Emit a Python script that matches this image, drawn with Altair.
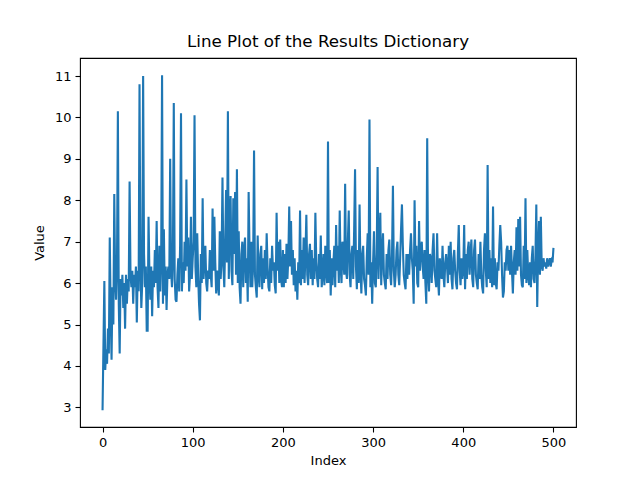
import altair as alt
import pandas as pd

# values, 50 per row block (index 0..500)
vals_000 = [2.93, 4.5, 6.05, 3.9, 4.4, 4.05, 4.9, 4.3, 7.1, 5.3,
            4.15, 5.9, 5.0, 8.15, 6.1, 5.6, 6.4, 10.15, 5.5, 4.3,
            6.1, 5.7, 6.2, 5.4, 6.0, 4.9, 6.2, 5.5, 6.1, 5.8,
            8.45, 6.2, 5.9, 6.3, 5.5, 6.2, 5.9, 6.4, 5.05, 6.3,
            5.8, 10.8, 6.5, 5.4, 6.0, 11.0, 6.7, 5.9, 6.4, 4.85]
vals_050 = [4.85, 7.6, 6.2, 5.6, 6.4, 5.2, 6.3, 5.9, 6.8, 6.0,
            7.5, 5.9, 5.4, 6.9, 5.8, 6.6, 11.02, 5.5, 7.3, 5.7,
            6.4, 5.35, 6.2, 6.4, 6.1, 9.0, 6.3, 5.9, 6.6, 10.35,
            6.1, 5.6, 5.55, 6.2, 6.6, 5.8, 6.9, 10.1, 5.8, 6.5,
            6.0, 7.0, 6.3, 8.5, 6.4, 7.1, 5.8, 6.2, 7.6, 6.1]
vals_100 = [6.6, 7.0, 10.05, 6.4, 5.9, 7.2, 6.2, 5.5, 5.1, 6.7,
            6.0, 8.05, 6.1, 6.5, 6.9, 6.0, 5.8, 6.3, 6.1, 6.8,
            6.2, 5.9, 7.8, 6.3, 7.6, 6.5, 5.75, 6.3, 6.0, 5.7,
            7.25, 6.1, 6.6, 8.55, 6.4, 5.9, 7.0, 8.25, 6.5, 10.15,
            6.1, 7.4, 8.1, 6.3, 5.95, 8.05, 6.7, 8.2, 6.2, 8.75]
vals_150 = [6.0, 7.25, 5.9, 5.5, 6.7, 7.0, 5.9, 6.8, 7.1, 6.0,
            6.6, 5.55, 8.2, 6.8, 5.9, 7.0, 5.9, 6.5, 9.2, 6.2,
            5.9, 5.65, 7.15, 6.2, 5.9, 6.7, 6.9, 5.85, 6.6, 6.0,
            6.8, 6.1, 7.2, 6.4, 5.9, 5.8, 6.6, 6.0, 6.9, 6.3,
            6.5, 5.95, 5.75, 7.7, 6.3, 7.0, 6.0, 7.05, 6.1, 5.9]
vals_200 = [6.8, 5.9, 6.7, 6.0, 6.95, 6.1, 6.6, 7.85, 6.4, 7.5,
            6.2, 6.8, 5.95, 6.6, 5.8, 6.3, 5.6, 6.5, 6.0, 7.75,
            5.95, 6.8, 6.1, 7.1, 6.0, 6.7, 7.65, 6.2, 5.95, 6.7,
            6.95, 6.1, 6.8, 5.95, 6.6, 6.1, 7.7, 6.5, 6.1, 5.9,
            6.7, 6.1, 7.15, 5.9, 6.2, 6.7, 5.95, 6.9, 6.3, 6.0]
vals_250 = [9.42, 6.0, 6.8, 5.7, 6.6, 5.95, 6.5, 6.9, 5.9, 7.4,
            6.3, 6.9, 6.0, 7.75, 6.4, 6.0, 7.0, 6.6, 6.2, 8.4,
            6.3, 6.1, 7.0, 7.75, 6.2, 5.9, 6.7, 6.9, 6.1, 7.3,
            8.75, 6.4, 5.85, 6.8, 6.0, 7.9, 6.3, 5.75, 6.7, 6.9,
            6.1, 5.95, 5.7, 6.6, 7.2, 6.2, 9.95, 5.9, 6.5, 5.5]
vals_300 = [6.5, 7.25, 6.0, 5.9, 6.7, 8.8, 6.1, 7.0, 7.7, 5.95,
            6.7, 7.2, 6.2, 6.0, 5.85, 6.7, 6.1, 6.8, 7.05, 6.2,
            5.95, 6.7, 8.35, 6.3, 5.9, 6.2, 6.8, 7.0, 6.2, 5.95,
            6.6, 7.3, 7.9, 6.9, 6.2, 6.0, 5.85, 6.7, 6.1, 6.7,
            6.2, 6.8, 7.2, 6.6, 6.3, 5.5, 8.0, 6.4, 6.9, 6.0]
vals_350 = [5.9, 7.5, 6.3, 6.8, 7.0, 6.4, 6.1, 6.8, 6.0, 5.5,
            9.5, 6.2, 5.8, 6.7, 6.6, 6.0, 6.8, 7.2, 6.3, 6.1,
            5.9, 7.2, 6.1, 5.7, 6.6, 6.3, 6.1, 6.9, 6.2, 5.9,
            6.5, 6.7, 6.4, 6.0, 6.9, 6.2, 7.0, 6.1, 5.85, 6.6,
            6.8, 6.3, 6.0, 5.85, 6.7, 7.4, 6.3, 5.95, 6.6, 6.1]
vals_400 = [6.3, 7.4, 5.85, 6.7, 6.1, 6.8, 7.0, 6.2, 6.7, 7.05,
            6.1, 5.9, 6.8, 7.05, 6.2, 6.0, 5.85, 6.7, 6.1, 7.0,
            6.2, 5.9, 5.75, 6.8, 7.2, 6.3, 5.9, 8.85, 6.1, 6.8,
            6.0, 6.6, 5.9, 7.85, 5.95, 6.6, 6.0, 5.85, 6.5, 6.3,
            6.9, 7.4, 7.0, 6.2, 5.65, 5.8, 6.5, 6.3, 6.8, 6.9]
vals_450 = [6.3, 6.8, 6.2, 6.9, 6.3, 5.75, 6.5, 6.8, 6.2, 7.35,
            6.3, 7.55, 6.4, 7.6, 6.2, 5.95, 5.9, 6.9, 6.1, 8.05,
            6.0, 6.8, 6.2, 5.95, 6.5, 5.9, 6.6, 6.9, 6.1, 6.0,
            6.6, 7.9, 5.42, 6.8, 7.5, 6.2, 7.6, 6.4, 6.3, 6.6,
            6.4, 6.5, 6.35, 6.6, 6.4, 6.5, 6.6, 6.4, 6.55, 6.5,
            6.85]

values = (vals_000 + vals_050 + vals_100 + vals_150 + vals_200
          + vals_250 + vals_300 + vals_350 + vals_400 + vals_450)
df = pd.DataFrame({"index": list(range(len(values))), "value": values})

X_TICKS = [0, 100, 200, 300, 400, 500]
Y_TICKS = [3, 4, 5, 6, 7, 8, 9, 10, 11]
FONT = "DejaVu Sans"

chart = (
    alt.Chart(df)
    .mark_line(color="#1f77b4", strokeWidth=2.1, clip=True)
    .encode(
        x=alt.X("index:Q", title="Index",
                scale=alt.Scale(domain=[-25, 525], nice=False, zero=False),
                axis=alt.Axis(values=X_TICKS, format="d", titlePadding=5)),
        y=alt.Y("value:Q", title="Value",
                scale=alt.Scale(domain=[2.525, 11.435], nice=False, zero=False),
                axis=alt.Axis(values=Y_TICKS, format="d", titlePadding=8)),
    )
    .properties(
        width=496,
        height=369,
        autosize="none",
        padding={"left": 72, "top": 50, "right": 56, "bottom": 45},
        title=alt.TitleParams("Line Plot of the Results Dictionary",
                              font=FONT, fontSize=16.7, fontWeight="normal",
                              color="black", offset=7),
    )
    .configure_view(stroke="black", strokeWidth=1.1)
    .configure_axis(
        grid=False, domain=False,
        ticks=True, tickSize=5, tickColor="black", tickWidth=1.1,
        labelFont=FONT, labelFontSize=13, labelColor="black", labelPadding=4,
        titleFont=FONT, titleFontSize=13, titleFontWeight="normal", titleColor="black",
    )
)

chart.save("out.html", embed_options={"renderer": "svg", "actions": False})
